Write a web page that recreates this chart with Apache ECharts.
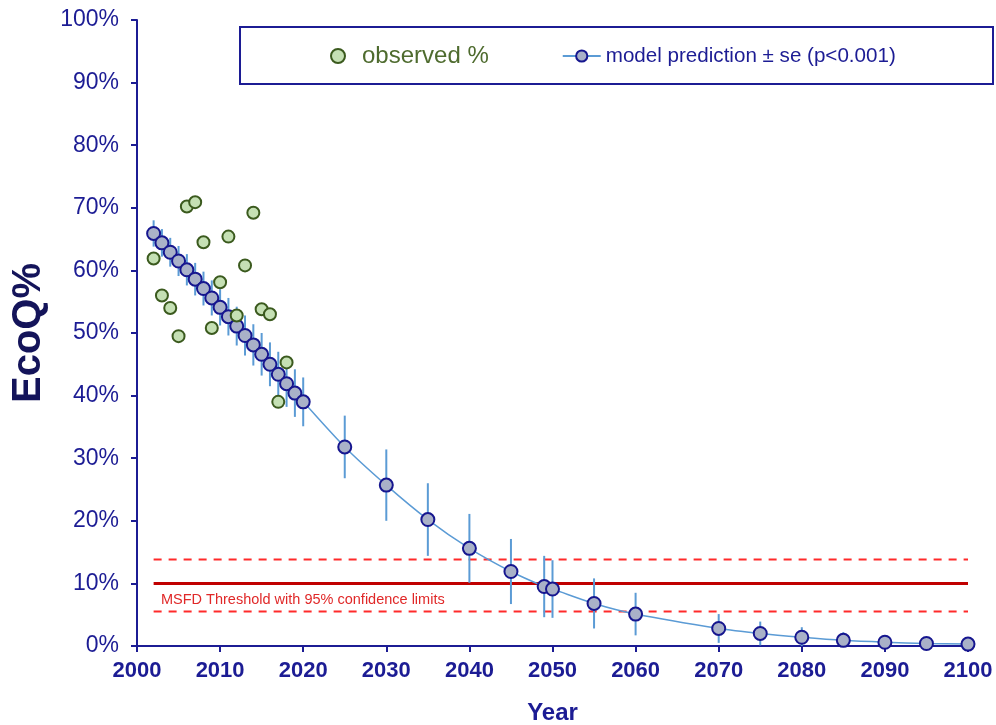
<!DOCTYPE html>
<html>
<head>
<meta charset="utf-8">
<script src="https://cdn.jsdelivr.net/npm/echarts@6/dist/echarts.min.js"></script>
<style>
  html, body { margin: 0; padding: 0; background: #fff; }
  #chart { width: 996px; height: 725px; }
</style>
</head>
<body>
<div id="chart"></div>
<script>
// observed EcoQ% per year
const obsYears = [2002, 2003, 2004, 2005, 2006, 2007, 2008, 2009, 2010, 2011, 2012, 2013, 2014, 2015, 2016, 2017, 2018];
const obsValues = [61.9, 56.0, 54.0, 49.5, 70.2, 70.9, 64.5, 50.8, 58.1, 65.4, 52.8, 60.8, 69.2, 53.8, 53.0, 39.0, 45.3];

// model prediction and standard error
const modelYears = [2002, 2003, 2004, 2005, 2006, 2007, 2008, 2009, 2010, 2011, 2012, 2013, 2014, 2015, 2016, 2017, 2018, 2019, 2020,
  2025, 2030, 2035, 2040, 2045, 2049, 2050, 2055, 2060, 2070, 2075, 2080, 2085, 2090, 2095, 2100];
const modelValues = [65.9, 64.4, 62.9, 61.5, 60.1, 58.6, 57.1, 55.6, 54.1, 52.6, 51.1, 49.6, 48.1, 46.6, 45.0, 43.4, 41.9, 40.4, 39.0,
  31.8, 25.7, 20.2, 15.6, 11.9, 9.5, 9.1, 6.8, 5.1, 2.8, 2.0, 1.4, 0.9, 0.6, 0.4, 0.3];
const modelSe = [2.1, 2.2, 2.3, 2.4, 2.5, 2.6, 2.7, 2.8, 2.9, 3.0, 3.1, 3.2, 3.3, 3.4, 3.5, 3.6, 3.7, 3.8, 3.9,
  5.0, 5.7, 5.8, 5.5, 5.2, 4.9, 4.6, 4.0, 3.4, 2.3, 1.9, 1.6, 1.3, 1.0, 0.7, 0.5];

// MSFD threshold and its 95% confidence limits
const thresholdYears = [2002, 2100];
const threshold = 10;
const thresholdLower = 5.5;
const thresholdUpper = 13.8;

const navy = '#1c1c94';
const chart = echarts.init(document.getElementById('chart'));

const lineData = (v) => thresholdYears.map(y => [y, v]);

const option = {
  animation: false,
  grid: { left: 137, right: 28, top: 20, bottom: 79, outerBoundsMode: 'none', containLabel: false },
  legend: {
    left: 330,
    top: 44,
    padding: 0,
    itemWidth: 38,
    itemHeight: 14,
    itemGap: 73,
    textStyle: { fontFamily: 'Liberation Sans', fontSize: 20 },
    data: [
      { name: 'observed %', textStyle: { color: '#4e6b2e', fontSize: 24 } },
      { name: 'model prediction ± se (p<0.001)', textStyle: { color: navy, fontSize: 20.6 } }
    ]
  },
  xAxis: {
    type: 'value',
    min: 2000,
    max: 2100,
    interval: 10,
    name: 'Year',
    nameLocation: 'middle',
    nameGap: 55,
    nameTextStyle: { color: navy, fontWeight: 'bold', fontSize: 24, fontFamily: 'Liberation Sans' },
    axisLine: { lineStyle: { color: navy, width: 2 } },
    axisTick: { length: 6, lineStyle: { color: navy, width: 2 } },
    axisLabel: {
      color: navy, fontWeight: 'bold', fontSize: 22, fontFamily: 'Liberation Sans', margin: 14,
      formatter: (v) => String(v)
    },
    splitLine: { show: false }
  },
  yAxis: {
    type: 'value',
    min: 0,
    max: 100,
    interval: 10,
    name: 'EcoQ%',
    nameLocation: 'middle',
    nameGap: 88,
    nameTextStyle: { color: '#14145a', fontWeight: 'bold', fontSize: 40, fontFamily: 'Liberation Sans' },
    axisLine: { show: true, lineStyle: { color: navy, width: 2 } },
    axisTick: { show: true, length: 6, lineStyle: { color: navy, width: 2 } },
    axisLabel: { color: navy, fontSize: 23, fontFamily: 'Liberation Sans', margin: 18, formatter: '{value}%' },
    splitLine: { show: false }
  },
  graphic: [
    {
      // legend frame
      type: 'rect',
      shape: { x: 240, y: 27, width: 753, height: 57 },
      style: { fill: 'none', stroke: navy, lineWidth: 2 },
      z: 0
    },
    {
      type: 'text',
      left: 161,
      top: 592,
      style: {
        text: 'MSFD Threshold with 95% confidence limits',
        fill: '#e02828',
        font: '14.5px "Liberation Sans"'
      }
    }
  ],
  series: [
    {
      name: 'threshold',
      type: 'line',
      data: lineData(threshold),
      symbol: 'none',
      lineStyle: { color: '#c00000', width: 3 },
      z: 1,
      silent: true
    },
    {
      name: 'upper',
      type: 'line',
      data: lineData(thresholdUpper),
      symbol: 'none',
      lineStyle: { color: '#ff2a2a', width: 2, type: [8, 7] },
      z: 1,
      silent: true
    },
    {
      name: 'lower',
      type: 'line',
      data: lineData(thresholdLower),
      symbol: 'none',
      lineStyle: { color: '#ff2a2a', width: 2, type: [8, 7] },
      z: 1,
      silent: true
    },
    {
      name: 'se',
      type: 'custom',
      z: 2,
      clip: true,
      data: modelYears.map((y, i) => [y, modelValues[i] - modelSe[i], modelValues[i] + modelSe[i]]),
      renderItem: (params, api) => {
        const lo = api.coord([api.value(0), api.value(1)]);
        const hi = api.coord([api.value(0), api.value(2)]);
        return {
          type: 'line',
          shape: { x1: lo[0], y1: lo[1], x2: hi[0], y2: hi[1] },
          style: { stroke: '#5b9bd5', lineWidth: 2 }
        };
      }
    },
    {
      name: 'model prediction ± se (p<0.001)',
      type: 'line',
      data: modelYears.map((y, i) => [y, modelValues[i]]),
      smooth: 0.3,
      symbol: 'circle',
      symbolSize: 13,
      lineStyle: { color: '#5b9bd5', width: 1.5 },
      itemStyle: { color: '#a9b1c8', borderColor: '#16168f', borderWidth: 2 },
      z: 3
    },
    {
      name: 'observed %',
      type: 'scatter',
      data: obsYears.map((y, i) => [y, obsValues[i]]),
      symbol: 'circle',
      symbolSize: 12,
      itemStyle: { color: '#c5e0b4', borderColor: '#3b5a1e', borderWidth: 2, opacity: 1 },
      z: 4
    }
  ]
};

chart.setOption(option);
window.addEventListener('resize', () => chart.resize());
</script>
</body>
</html>
